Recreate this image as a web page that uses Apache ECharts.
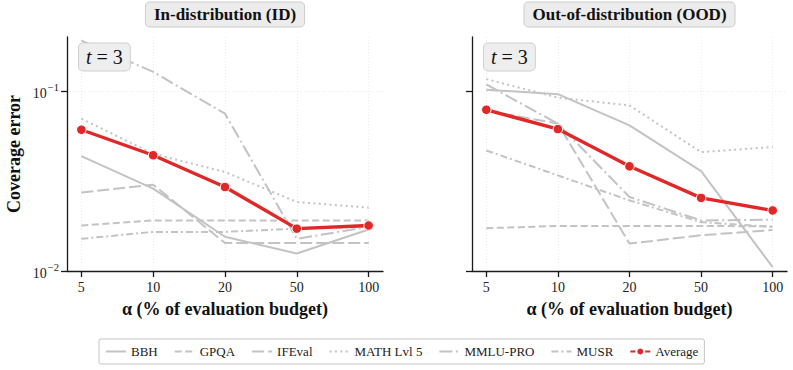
<!DOCTYPE html>
<html><head><meta charset="utf-8">
<script src="https://cdn.jsdelivr.net/npm/echarts@6/dist/echarts.min.js"></script>
<style>html,body{margin:0;padding:0;background:#fff}#c{width:793px;height:370px}</style>
</head><body><div id="c"></div>
<script>
// ---- data ----
const categories = ['5', '10', '20', '50', '100'];
const seriesNames = ['BBH', 'GPQA', 'IFEval', 'MATH Lvl 5', 'MMLU-PRO', 'MUSR', 'Average'];

const bbhID    = [0.0435, 0.0287, 0.0155, 0.0125, 0.0170];
const gpqaID   = [0.0179, 0.0191, 0.0191, 0.0191, 0.0191];
const ifevalID = [0.0273, 0.0302, 0.0143, 0.0143, 0.0143];
const mathID   = [0.0703, 0.0449, 0.0355, 0.0242, 0.0225];
const mmluID   = [0.191, 0.128, 0.0749, 0.0151, 0.0176];
const musrID   = [0.0151, 0.0165, 0.0165, 0.0172, 0.0176];
const avgID    = [0.0610, 0.0440, 0.0293, 0.0172, 0.0179];

const bbhOOD    = [0.1018, 0.0962, 0.0645, 0.0359, 0.0105];
const gpqaOOD   = [0.0173, 0.0178, 0.0178, 0.0178, 0.0177];
const ifevalOOD = [0.0780, 0.0660, 0.0142, 0.0158, 0.0169];
const mathOOD   = [0.1166, 0.0920, 0.0833, 0.0458, 0.0489];
const mmluOOD   = [0.1090, 0.0659, 0.0258, 0.0191, 0.0193];
const musrOOD   = [0.0468, 0.0340, 0.0247, 0.0187, 0.0176];
const avgOOD    = [0.0788, 0.0615, 0.0382, 0.0255, 0.0217];

const yTickValues = [0.01, 0.1];
const panelTitles = ['In-distribution (ID)', 'Out-of-distribution (OOD)'];
const xAxisTitle = 'α (% of evaluation budget)';
const yAxisTitle = 'Coverage error';
const annotationVar = 't';
const annotationRest = ' = 3';

// ---- styles ----
const GRAY = '#c3c3c3';
const RED = '#e02828';
const SERIF = 'Liberation Serif, Times New Roman, serif';
const dashStyles = {
  'BBH': 'solid',
  'GPQA': [7, 3.5],
  'IFEval': [12, 4],
  'MATH Lvl 5': [2, 3.4],
  'MMLU-PRO': [13, 3.5, 2, 3.5],
  'MUSR': [7, 3, 2, 3],
  'Average': 'solid'
};
const panelData = [
  [bbhID, gpqaID, ifevalID, mathID, mmluID, musrID, avgID],
  [bbhOOD, gpqaOOD, ifevalOOD, mathOOD, mmluOOD, musrOOD, avgOOD]
];
const grids = [
  {left: 67, top: 37, width: 316, height: 234},
  {left: 472, top: 37, width: 315, height: 234}
];

function makeSeries(name, values, gi) {
  const isAvg = name === 'Average';
  const color = isAvg ? RED : GRAY;
  return {
    type: 'line', name: name, xAxisIndex: gi, yAxisIndex: gi,
    data: values.map((v, i) => [i, v]),
    symbol: isAvg ? 'circle' : 'none',
    symbolSize: 9.5,
    showSymbol: isAvg,
    lineStyle: {color: color, width: isAvg ? 3.4 : 2, type: dashStyles[name], cap: 'butt'},
    itemStyle: isAvg ? {color: color, borderColor: '#fff', borderWidth: 1}
                     : {color: color, opacity: 0},
    z: isAvg ? 5 : 2,
    silent: true,
    emphasis: {disabled: true}
  };
}

const series = [];
panelData.forEach((arr, gi) => {
  arr.forEach((vals, k) => series.push(makeSeries(seriesNames[k], vals, gi)));
});

const axisLineStyle = {color: '#1a1a1a', width: 1.3};
const xAxes = grids.map((g, gi) => ({
  type: 'value', gridIndex: gi, min: -0.2, max: 4.2,
  axisLine: {show: true, onZero: false, lineStyle: axisLineStyle},
  axisTick: {show: true, length: 6, customValues: [0, 1, 2, 3, 4], lineStyle: axisLineStyle},
  axisLabel: {show: true, customValues: [0, 1, 2, 3, 4], formatter: v => categories[Math.round(v)],
    fontFamily: SERIF, fontSize: 14, color: '#222', margin: 9},
  splitLine: {show: true, lineStyle: {color: '#e6e6e6', width: 0.8, type: [1, 2]}},
  name: xAxisTitle, nameLocation: 'middle', nameGap: 29,
  nameTextStyle: {fontFamily: SERIF, fontWeight: 'bold', fontSize: 18, color: '#111'}
}));
const yAxes = grids.map((g, gi) => ({
  type: 'log', logBase: 10, gridIndex: gi, min: 0.01, max: 0.2,
  axisLine: {show: true, onZero: false, lineStyle: axisLineStyle},
  axisTick: {show: true, length: 6, customValues: yTickValues, lineStyle: axisLineStyle},
  minorTick: {show: false},
  axisLabel: {show: gi === 0, customValues: yTickValues, margin: 8, fontFamily: SERIF,
    formatter: v => '{b|10}{s|\u2212' + Math.round(-Math.log10(v)) + '}',
    rich: {
      b: {fontFamily: SERIF, fontSize: 14, color: '#222', lineHeight: 18, verticalAlign: 'bottom'},
      s: {fontFamily: SERIF, fontSize: 10.5, color: '#222', lineHeight: 18, verticalAlign: 'top', padding: [0, 0, 6, 1]}
    }},
  splitLine: {show: true, lineStyle: {color: '#e6e6e6', width: 0.8, type: [1, 2]}},
  name: gi === 0 ? yAxisTitle : '', nameLocation: 'middle', nameGap: 44, nameRotate: 90,
  nameTextStyle: {fontFamily: SERIF, fontWeight: 'bold', fontSize: 18, color: '#111'}
}));

const graphics = [];
grids.forEach((g, gi) => {
  graphics.push({
    type: 'text', x: g.left + g.width / 2, y: 14.5, z: 100,
    style: {text: panelTitles[gi], align: 'center', verticalAlign: 'middle',
      fontFamily: SERIF, fontWeight: 'bold', fontSize: 17, fill: '#111',
      backgroundColor: '#ececec', borderColor: '#cdcdcd', borderWidth: 1, borderRadius: 4,
      padding: [4, 8, 3, 8]}
  });
  graphics.push({
    type: 'text', x: g.left + 12, y: 43.5, z: 100,
    style: {text: '{i|' + annotationVar + '}{n|' + annotationRest + '}', align: 'left', verticalAlign: 'top',
      backgroundColor: '#eeeeee', borderColor: '#d0d0d0', borderWidth: 1, borderRadius: 4,
      padding: [3, 7, 3, 7],
      rich: {
        i: {fontFamily: SERIF, fontStyle: 'italic', fontSize: 20, fill: '#111', lineHeight: 21},
        n: {fontFamily: SERIF, fontSize: 20, fill: '#111', lineHeight: 21}
      }}
  });
});

const chart = echarts.init(document.getElementById('c'), null, {renderer: 'svg', width: 793, height: 370});
chart.setOption({
  animation: false,
  backgroundColor: '#ffffff',
  textStyle: {fontFamily: SERIF},
  grid: grids,
  xAxis: xAxes,
  yAxis: yAxes,
  series: series,
  legend: {
    data: seriesNames, left: 99, top: 339, orient: 'horizontal',
    padding: [6, 6, 6, 6], itemGap: 16, itemWidth: 20, itemHeight: 10,
    borderColor: '#c4c4c4', borderWidth: 1, borderRadius: 2, backgroundColor: '#fff',
    textStyle: {fontFamily: SERIF, fontSize: 13, color: '#222'},
    selectedMode: false
  },
  graphic: graphics
});
</script>
</body></html>
